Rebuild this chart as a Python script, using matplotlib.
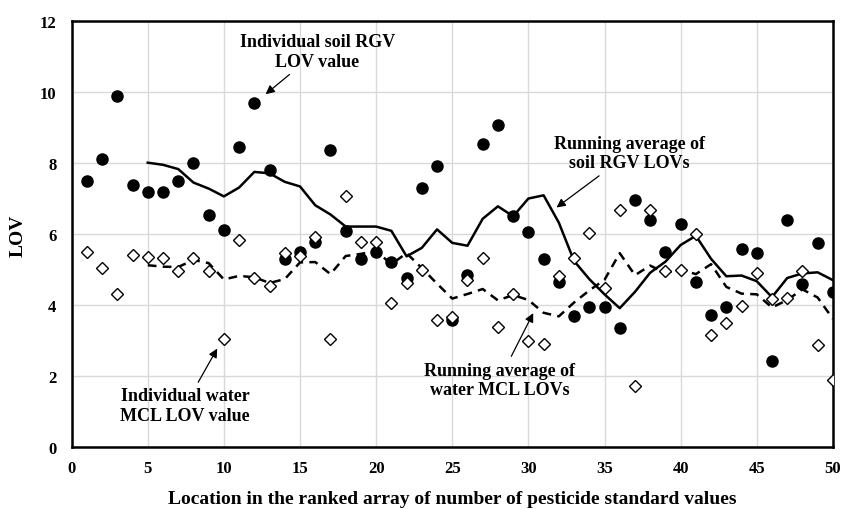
import matplotlib.pyplot as plt

plt.rcParams["font.family"] = ["Liberation Serif", "DejaVu Serif"]
plt.rcParams["font.weight"] = "bold"

location = list(range(1, 51))

soil_lov = [7.50, 8.12, 9.90, 7.39, 7.19, 7.20, 7.50, 8.00, 6.54, 6.12,
            8.46, 9.70, 7.80, 5.30, 5.51, 5.79, 8.38, 6.10, 5.30, 5.51,
            5.23, 4.76, 7.30, 7.92, 3.59, 4.85, 8.54, 9.07, 6.52, 6.08,
            5.30, 4.67, 3.69, 3.94, 3.94, 3.36, 6.97, 6.41, 5.49, 6.29,
            4.65, 3.73, 3.94, 5.59, 5.47, 2.42, 6.41, 4.60, 5.77, 4.37]

water_lov = [5.49, 5.04, 4.32, 5.43, 5.35, 5.33, 4.96, 5.33, 4.96, 3.05,
             5.85, 4.76, 4.55, 5.47, 5.40, 5.92, 3.05, 7.09, 5.79, 5.79,
             4.06, 4.63, 5.00, 3.59, 3.66, 4.72, 5.33, 3.40, 4.32, 3.00,
             2.91, 4.83, 5.33, 6.04, 4.48, 6.68, 1.74, 6.68, 4.96, 5.00,
             6.01, 3.16, 3.49, 3.99, 4.90, 4.18, 4.20, 4.96, 2.88, 1.90]

avg_location = list(range(5, 51))

soil_avg = [8.02, 7.96, 7.84, 7.46, 7.29, 7.07, 7.32, 7.76, 7.72, 7.48,
            7.35, 6.82, 6.56, 6.22, 6.22, 6.22, 6.10, 5.38, 5.62, 6.14,
            5.76, 5.68, 6.44, 6.79, 6.51, 7.01, 7.10, 6.33, 5.25, 4.74,
            4.31, 3.92, 4.38, 4.92, 5.23, 5.70, 5.96, 5.31, 4.82, 4.84,
            4.68, 4.23, 4.77, 4.90, 4.93, 4.71]

water_avg = [5.13, 5.09, 5.08, 5.28, 5.19, 4.73, 4.83, 4.79, 4.63, 4.74,
             5.21, 5.22, 4.88, 5.39, 5.45, 5.53, 5.16, 5.47, 5.05, 4.61,
             4.19, 4.32, 4.46, 4.14, 4.29, 4.15, 3.79, 3.69, 4.08, 4.42,
             4.72, 5.47, 4.85, 5.12, 4.91, 5.01, 4.88, 5.16, 4.52, 4.33,
             4.31, 3.94, 4.15, 4.45, 4.22, 3.62]

fig, ax = plt.subplots(figsize=(8.43, 5.10), dpi=100)
fig.subplots_adjust(left=0.085, right=0.988, top=0.956, bottom=0.121)

ax.grid(color="#d9d9d9", linewidth=1.0)
ax.set_axisbelow(True)

ax.plot(avg_location, soil_avg, color="black", linewidth=1.8, zorder=3)
ax.plot(avg_location, water_avg, color="black", linewidth=1.8,
        linestyle=(0, (3.5, 2.5)), zorder=3)
ax.plot(location, soil_lov, "o", color="black", markersize=8, zorder=4)
ax.plot(location, water_lov, "D", markerfacecolor="white", markeredgecolor="black",
        markeredgewidth=1.0, markersize=6, linestyle="none", zorder=4)

ax.set_xlim(0, 50)
ax.set_ylim(0, 12)
ax.set_xticks(range(0, 51, 5))
ax.set_yticks(range(0, 13, 2))
ax.tick_params(length=0, labelsize=12)
ax.tick_params(axis="x", pad=9)
ax.tick_params(axis="y", pad=11)
for lab in ax.get_xticklabels() + ax.get_yticklabels():
    lab.set_fontweight("bold")
for side in ax.spines.values():
    side.set_linewidth(1.8)

ax.set_xlabel("Location in the ranked array of number of pesticide standard values",
              fontsize=14, fontweight="bold", labelpad=10)
ax.set_ylabel("LOV", fontsize=14, fontweight="bold", labelpad=9)

arrow = dict(arrowstyle="-|>", color="black", linewidth=0.9, mutation_scale=13)
note = dict(ha="center", va="center", fontsize=13, fontweight="bold", linespacing=1.2)
ax.annotate("Individual soil RGV\nLOV value", xy=(12.6, 9.9), xytext=(16.13, 11.15),
            arrowprops=arrow, **note)
ax.annotate("Running average of\nsoil RGV LOVs", xy=(31.7, 6.71), xytext=(36.65, 8.29),
            arrowprops=arrow, **note)
ax.annotate("Individual water\nMCL LOV value", xy=(9.65, 2.85), xytext=(7.44, 1.17),
            arrowprops=arrow, **note)
ax.annotate("Running average of\nwater MCL LOVs", xy=(30.4, 3.85), xytext=(28.09, 1.9),
            arrowprops=arrow, **note)

fig.savefig("out.png", dpi=100)
